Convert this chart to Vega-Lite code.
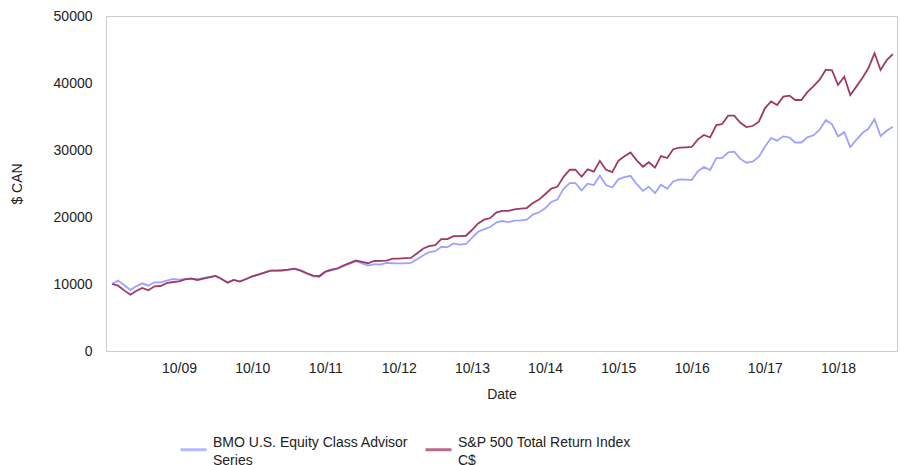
{
  "$schema": "https://vega.github.io/schema/vega-lite/v6.json",
  "width": 791,
  "height": 335,
  "autosize": {"type": "none"},
  "padding": {"left": 106, "top": 16, "right": 5, "bottom": 114},
  "background": "white",
  "config": {
    "font": "Liberation Sans",
    "view": {"stroke": "#cccccc", "strokeWidth": 1},
    "style": {"guide-label": {"lineHeight": 18}}
  },
  "data": {"values": [
    {"d":"2008-11-01","BMO":10000,"SP":10000},
    {"d":"2008-12-01","BMO":10500,"SP":9750},
    {"d":"2009-01-01","BMO":9800,"SP":9050},
    {"d":"2009-02-01","BMO":9100,"SP":8400},
    {"d":"2009-03-01","BMO":9650,"SP":8950},
    {"d":"2009-04-01","BMO":10100,"SP":9400},
    {"d":"2009-05-01","BMO":9750,"SP":9050},
    {"d":"2009-06-01","BMO":10250,"SP":9650},
    {"d":"2009-07-01","BMO":10250,"SP":9700},
    {"d":"2009-08-01","BMO":10500,"SP":10150},
    {"d":"2009-09-01","BMO":10750,"SP":10300},
    {"d":"2009-10-01","BMO":10650,"SP":10400},
    {"d":"2009-11-01","BMO":10750,"SP":10700},
    {"d":"2009-12-01","BMO":10850,"SP":10800},
    {"d":"2010-01-01","BMO":10700,"SP":10600},
    {"d":"2010-02-01","BMO":10900,"SP":10800},
    {"d":"2010-03-01","BMO":11050,"SP":11000},
    {"d":"2010-04-01","BMO":11200,"SP":11200},
    {"d":"2010-05-01","BMO":10750,"SP":10750},
    {"d":"2010-06-01","BMO":10250,"SP":10200},
    {"d":"2010-07-01","BMO":10600,"SP":10600},
    {"d":"2010-08-01","BMO":10400,"SP":10350},
    {"d":"2010-09-01","BMO":10750,"SP":10750},
    {"d":"2010-10-01","BMO":11100,"SP":11150},
    {"d":"2010-11-01","BMO":11400,"SP":11400},
    {"d":"2010-12-01","BMO":11700,"SP":11700},
    {"d":"2011-01-01","BMO":12000,"SP":12000},
    {"d":"2011-02-01","BMO":12000,"SP":12000},
    {"d":"2011-03-01","BMO":12000,"SP":12050},
    {"d":"2011-04-01","BMO":12150,"SP":12150},
    {"d":"2011-05-01","BMO":12250,"SP":12300},
    {"d":"2011-06-01","BMO":11950,"SP":12000},
    {"d":"2011-07-01","BMO":11550,"SP":11600},
    {"d":"2011-08-01","BMO":11150,"SP":11250},
    {"d":"2011-09-01","BMO":11050,"SP":11200},
    {"d":"2011-10-01","BMO":11800,"SP":11850},
    {"d":"2011-11-01","BMO":12050,"SP":12150},
    {"d":"2011-12-01","BMO":12250,"SP":12350},
    {"d":"2012-01-01","BMO":12650,"SP":12800},
    {"d":"2012-02-01","BMO":13050,"SP":13150},
    {"d":"2012-03-01","BMO":13400,"SP":13500},
    {"d":"2012-04-01","BMO":13080,"SP":13300},
    {"d":"2012-05-01","BMO":12750,"SP":13100},
    {"d":"2012-06-01","BMO":12950,"SP":13430},
    {"d":"2012-07-01","BMO":12900,"SP":13450},
    {"d":"2012-08-01","BMO":13150,"SP":13480},
    {"d":"2012-09-01","BMO":13100,"SP":13780},
    {"d":"2012-10-01","BMO":13080,"SP":13800},
    {"d":"2012-11-01","BMO":13080,"SP":13850},
    {"d":"2012-12-01","BMO":13150,"SP":13900},
    {"d":"2013-01-01","BMO":13700,"SP":14600},
    {"d":"2013-02-01","BMO":14300,"SP":15300},
    {"d":"2013-03-01","BMO":14750,"SP":15650},
    {"d":"2013-04-01","BMO":14900,"SP":15800},
    {"d":"2013-05-01","BMO":15550,"SP":16700},
    {"d":"2013-06-01","BMO":15500,"SP":16700},
    {"d":"2013-07-01","BMO":16050,"SP":17150},
    {"d":"2013-08-01","BMO":15870,"SP":17160},
    {"d":"2013-09-01","BMO":15970,"SP":17200},
    {"d":"2013-10-01","BMO":16900,"SP":18060},
    {"d":"2013-11-01","BMO":17800,"SP":19050},
    {"d":"2013-12-01","BMO":18200,"SP":19600},
    {"d":"2014-01-01","BMO":18500,"SP":19850},
    {"d":"2014-02-01","BMO":19200,"SP":20700},
    {"d":"2014-03-01","BMO":19400,"SP":20900},
    {"d":"2014-04-01","BMO":19250,"SP":20900},
    {"d":"2014-05-01","BMO":19450,"SP":21150},
    {"d":"2014-06-01","BMO":19500,"SP":21250},
    {"d":"2014-07-01","BMO":19600,"SP":21340},
    {"d":"2014-08-01","BMO":20350,"SP":22100},
    {"d":"2014-09-01","BMO":20700,"SP":22600},
    {"d":"2014-10-01","BMO":21300,"SP":23400},
    {"d":"2014-11-01","BMO":22250,"SP":24250},
    {"d":"2014-12-01","BMO":22600,"SP":24500},
    {"d":"2015-01-01","BMO":24200,"SP":26000},
    {"d":"2015-02-01","BMO":25070,"SP":27050},
    {"d":"2015-03-01","BMO":25070,"SP":27050},
    {"d":"2015-04-01","BMO":23980,"SP":26010},
    {"d":"2015-05-01","BMO":24970,"SP":27110},
    {"d":"2015-06-01","BMO":24770,"SP":26760},
    {"d":"2015-07-01","BMO":26160,"SP":28380},
    {"d":"2015-08-01","BMO":24770,"SP":27050},
    {"d":"2015-09-01","BMO":24400,"SP":26700},
    {"d":"2015-10-01","BMO":25620,"SP":28380},
    {"d":"2015-11-01","BMO":25960,"SP":29050},
    {"d":"2015-12-01","BMO":26140,"SP":29620},
    {"d":"2016-01-01","BMO":24900,"SP":28450},
    {"d":"2016-02-01","BMO":23900,"SP":27510},
    {"d":"2016-03-01","BMO":24520,"SP":28170},
    {"d":"2016-04-01","BMO":23580,"SP":27360},
    {"d":"2016-05-01","BMO":24820,"SP":29100},
    {"d":"2016-06-01","BMO":24200,"SP":28800},
    {"d":"2016-07-01","BMO":25300,"SP":30120},
    {"d":"2016-08-01","BMO":25620,"SP":30350},
    {"d":"2016-09-01","BMO":25570,"SP":30400},
    {"d":"2016-10-01","BMO":25520,"SP":30450},
    {"d":"2016-11-01","BMO":26830,"SP":31590},
    {"d":"2016-12-01","BMO":27460,"SP":32240},
    {"d":"2017-01-01","BMO":27010,"SP":31870},
    {"d":"2017-02-01","BMO":28800,"SP":33730},
    {"d":"2017-03-01","BMO":28800,"SP":33850},
    {"d":"2017-04-01","BMO":29650,"SP":35120},
    {"d":"2017-05-01","BMO":29750,"SP":35120},
    {"d":"2017-06-01","BMO":28670,"SP":34060},
    {"d":"2017-07-01","BMO":28100,"SP":33430},
    {"d":"2017-08-01","BMO":28250,"SP":33580},
    {"d":"2017-09-01","BMO":29000,"SP":34220},
    {"d":"2017-10-01","BMO":30490,"SP":36220},
    {"d":"2017-11-01","BMO":31790,"SP":37260},
    {"d":"2017-12-01","BMO":31390,"SP":36720},
    {"d":"2018-01-01","BMO":32040,"SP":37960},
    {"d":"2018-02-01","BMO":31870,"SP":38110},
    {"d":"2018-03-01","BMO":31120,"SP":37460},
    {"d":"2018-04-01","BMO":31120,"SP":37460},
    {"d":"2018-05-01","BMO":31890,"SP":38630},
    {"d":"2018-06-01","BMO":32190,"SP":39550},
    {"d":"2018-07-01","BMO":33040,"SP":40500},
    {"d":"2018-08-01","BMO":34480,"SP":41990},
    {"d":"2018-09-01","BMO":33830,"SP":41890},
    {"d":"2018-10-01","BMO":32040,"SP":39700},
    {"d":"2018-11-01","BMO":32660,"SP":40940},
    {"d":"2018-12-01","BMO":30450,"SP":38210},
    {"d":"2019-01-01","BMO":31540,"SP":39500},
    {"d":"2019-02-01","BMO":32570,"SP":40820},
    {"d":"2019-03-01","BMO":33170,"SP":42190},
    {"d":"2019-04-01","BMO":34580,"SP":44430},
    {"d":"2019-05-01","BMO":32090,"SP":41940},
    {"d":"2019-06-01","BMO":32880,"SP":43430},
    {"d":"2019-07-01","BMO":33480,"SP":44300}
  ]},
  "transform": [{"fold": ["BMO", "SP"], "as": ["series", "value"]}],
  "mark": {"type": "line", "strokeWidth": 1.8, "interpolate": "linear"},
  "encoding": {
    "x": {
      "field": "d", "type": "temporal",
      "scale": {"domain": [{"year": 2008, "month": 10, "date": 2}, {"year": 2019, "month": 7, "date": 22}]},
      "axis": {
        "title": "Date",
        "format": "%m/%y",
        "values": [
          {"year": 2009, "month": 10, "date": 1}, {"year": 2010, "month": 10, "date": 1},
          {"year": 2011, "month": 10, "date": 1}, {"year": 2012, "month": 10, "date": 1},
          {"year": 2013, "month": 10, "date": 1}, {"year": 2014, "month": 10, "date": 1},
          {"year": 2015, "month": 10, "date": 1}, {"year": 2016, "month": 10, "date": 1},
          {"year": 2017, "month": 10, "date": 1}, {"year": 2018, "month": 10, "date": 1}
        ],
        "grid": false, "ticks": false, "tickSize": 0, "domain": false,
        "labelFontSize": 14, "labelColor": "#222222", "labelPadding": 10,
        "titleFontSize": 14, "titleFontWeight": "normal", "titleColor": "#222222", "titlePadding": 12,
        "labelFlush": false, "labelOverlap": false
      }
    },
    "y": {
      "field": "value", "type": "quantitative",
      "scale": {"domain": [0, 50000], "nice": false},
      "axis": {
        "title": "$ CAN",
        "values": [0, 10000, 20000, 30000, 40000, 50000],
        "format": "d",
        "grid": false, "ticks": false, "tickSize": 0, "domain": false,
        "labelFontSize": 14, "labelColor": "#222222", "labelPadding": 14,
        "titleFontSize": 14, "titleFontWeight": "normal", "titleColor": "#222222", "titlePadding": 29,
        "labelFlush": false
      }
    },
    "color": {
      "field": "series", "type": "nominal",
      "scale": {"domain": ["BMO", "SP"], "range": ["#a0a0ff", "#9e3a66"]},
      "legend": {
        "title": null,
        "orient": "none",
        "direction": "horizontal",
        "legendX": 73,
        "legendY": 419,
        "padding": 0,
        "symbolType": "stroke",
        "symbolSize": 676,
        "symbolStrokeWidth": 3,
        "symbolOpacity": 0.75,
        "labelFontSize": 14,
        "labelColor": "#222222",
        "labelBaseline": "bottom",
        "labelOffset": 5,
        "columnPadding": 10,
        "labelLimit": 400,
        "labelExpr": "datum.label == 'BMO' ? ['BMO U.S. Equity Class Advisor', 'Series'] : ['S&P 500 Total Return Index', 'C$']"
      }
    }
  }
}
